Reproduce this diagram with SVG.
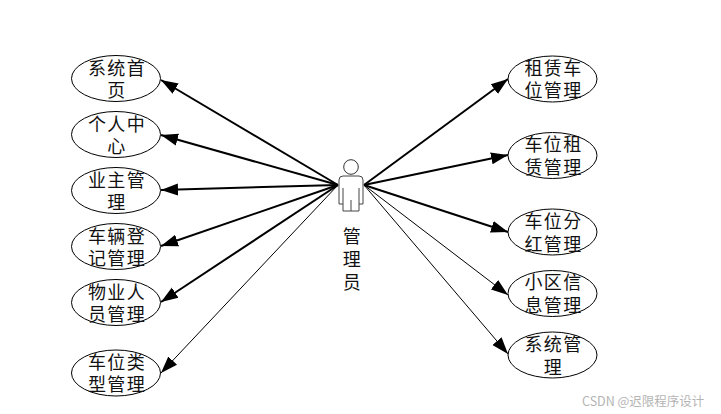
<svg xmlns="http://www.w3.org/2000/svg" width="721" height="414" viewBox="0 0 721 414">
<style>
.n ellipse{fill:#fff;stroke:#000;stroke-width:1}
.n text,.a text{font-family:"Noto Sans CJK SC","Noto Sans CJK JP",sans-serif;font-size:18px;fill:#111;text-anchor:middle;letter-spacing:1.3px}
.c line{stroke:#000}
.t2{stroke-width:2;marker-end:url(#h2)}
.t1{stroke-width:1;marker-end:url(#h2)}
</style>
<defs>
<marker id="h2" markerUnits="userSpaceOnUse" markerWidth="18" markerHeight="14" refX="17" refY="7" orient="auto"><path d="M0 1L17 7L0 13Z" fill="#000"/></marker>
</defs>
<rect width="721" height="414" fill="#fff"/>
<g id="connectors" class="c">
<line class="t2" x1="338" y1="185" x2="161" y2="80"/>
<line class="t2" x1="338" y1="185" x2="161" y2="135"/>
<line class="t2" x1="338" y1="185" x2="161" y2="190"/>
<line class="t2" x1="338" y1="185" x2="161" y2="246"/>
<line class="t2" x1="338" y1="185" x2="161" y2="302"/>
<line class="t1" x1="338" y1="185" x2="161" y2="373"/>
<line class="t2" x1="364" y1="185" x2="508" y2="79"/>
<line class="t2" x1="364" y1="185" x2="508" y2="155"/>
<line class="t2" x1="364" y1="185" x2="508" y2="232"/>
<line class="t1" x1="364" y1="185" x2="508" y2="295"/>
<line class="t1" x1="364" y1="185" x2="508" y2="354"/>
</g>
<g id="actor" class="a">
<circle cx="351" cy="167" r="7.3" fill="#fff" stroke="#333"/>
<path d="M339 204V180a4 4 0 0 1 4-4h16a4 4 0 0 1 4 4V204M343 188V211H359V188M351 200V211M339 204H343M359 204H363" fill="#fff" stroke="#444"/>
<text x="352.5" y="243">管<tspan x="352.5" dy="23">理</tspan><tspan x="352.5" dy="23">员</tspan></text>
</g>
<g id="n1" class="n"><ellipse cx="116" cy="78.5" rx="44.5" ry="23"/><text x="117" y="74.5">系统首<tspan x="117" dy="22">页</tspan></text></g>
<g id="n2" class="n"><ellipse cx="116" cy="134.5" rx="44.5" ry="23"/><text x="117" y="130.5">个人中<tspan x="117" dy="22">心</tspan></text></g>
<g id="n3" class="n"><ellipse cx="116" cy="190.5" rx="44.5" ry="23"/><text x="117" y="186.5">业主管<tspan x="117" dy="22">理</tspan></text></g>
<g id="n4" class="n"><ellipse cx="116" cy="246.5" rx="44.5" ry="23"/><text x="117" y="242.5">车辆登<tspan x="117" dy="22">记管理</tspan></text></g>
<g id="n5" class="n"><ellipse cx="116" cy="302.5" rx="44.5" ry="23"/><text x="117" y="298.5">物业人<tspan x="117" dy="22">员管理</tspan></text></g>
<g id="n6" class="n"><ellipse cx="116" cy="373" rx="44.5" ry="23"/><text x="117" y="368.5">车位类<tspan x="117" dy="22">型管理</tspan></text></g>
<g id="n7" class="n"><ellipse cx="552.5" cy="79" rx="44.5" ry="23"/><text x="553.5" y="74.5">租赁车<tspan x="553.5" dy="22">位管理</tspan></text></g>
<g id="n8" class="n"><ellipse cx="552.5" cy="155.5" rx="44.5" ry="23"/><text x="553.5" y="150.5">车位租<tspan x="553.5" dy="23">赁管理</tspan></text></g>
<g id="n9" class="n"><ellipse cx="552.5" cy="232" rx="44.5" ry="23"/><text x="553.5" y="227.5">车位分<tspan x="553.5" dy="23">红管理</tspan></text></g>
<g id="n10" class="n"><ellipse cx="552.5" cy="293.5" rx="44.5" ry="23"/><text x="553.5" y="288.5">小区信<tspan x="553.5" dy="23">息管理</tspan></text></g>
<g id="n11" class="n"><ellipse cx="552.5" cy="355" rx="44.5" ry="23"/><text x="553.5" y="350.5">系统管<tspan x="553.5" dy="23">理</tspan></text></g>
<text x="582" y="406" font-family="Noto Sans CJK SC,sans-serif" font-size="12.5" fill="#b4b4b4">CSDN @迟限程序设计</text>
</svg>
